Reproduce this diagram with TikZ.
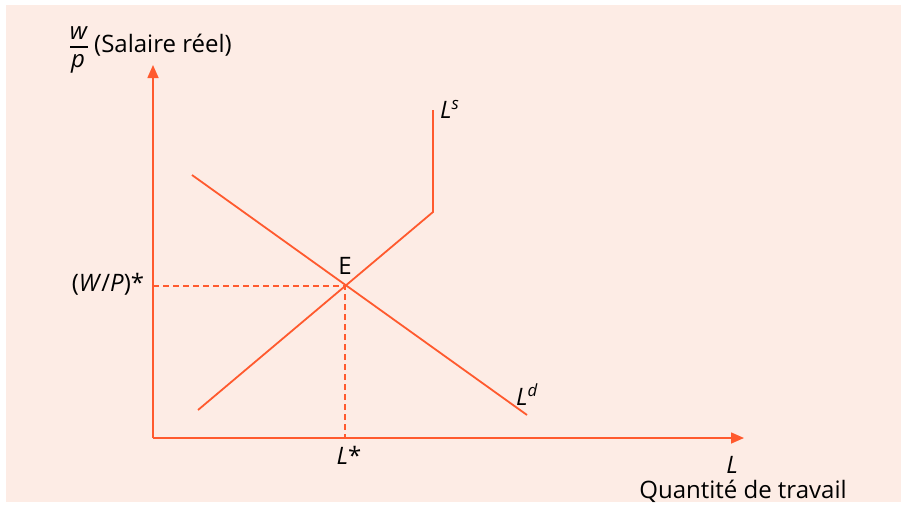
\documentclass[tikz,border=0pt]{standalone}
\usepackage{fontspec}
\setmainfont{Open Sans}
\usetikzlibrary{arrows.meta}
\definecolor{bgpink}{HTML}{FDECE5}
\definecolor{curve}{HTML}{FF5A2E}
\tikzset{
  axis/.style={draw=curve, line width=1.6pt, -{Triangle[length=13pt,width=11pt]}},
  curveline/.style={draw=curve, line width=1.8pt},
  guide/.style={draw=curve, line width=1.1pt, dash pattern=on 6pt off 4pt},
  lbl/.style={font=\fontsize{24}{28}\selectfont, inner sep=0pt, text=black},
}
\begin{document}
\begin{tikzpicture}[x=1pt,y=-1pt]
\useasboundingbox (0,0) rectangle (902,517);
\fill[bgpink] (6,5) rectangle (901,502);
% coordinates
\coordinate (O) at (153,438);
\coordinate (Ytop) at (153,65);
\coordinate (Xend) at (744,438);
\coordinate (Ld1) at (192,175);
\coordinate (Ld2) at (527,415);
\coordinate (Ls1) at (198,410);
\coordinate (Lsk) at (433,212);
\coordinate (Ls2) at (433,110);
\coordinate (E) at (345,286);
\coordinate (Ey) at (153,286);
\coordinate (Ex) at (345,438);
% guides
\draw[guide] (Ey) -- (E) -- (Ex);
% curves
\draw[curveline] (Ld1) -- (Ld2);
\draw[curveline] (Ls1) -- (Lsk) -- (Ls2);
% axes
\draw[axis] (O) -- (Ytop);
\draw[axis] (O) -- (Xend);
% labels
\node[lbl] (fw) at (79,33) {\textit{w}};
\node[lbl] (fp) at (78,64) {\textit{p}};
\draw[black, line width=1.3pt] (70,47) -- (88,47);
\node[lbl, anchor=west] (ytitle) at (94,45) {(Salaire réel)};
\node[lbl] (wp) at (108,284) {(\textit{W}/\textit{P})*};
\node[lbl] (Elbl) at (345,266) {E};
\node[lbl] (Lstar) at (349,455) {\textit{L}*};
\node[lbl, anchor=west] (Ls) at (440,109) {\textit{L}\textsuperscript{\textit{s}}};
\node[lbl, anchor=west] (Ld) at (516,395) {\textit{L}\textsuperscript{\textit{d}}};
\node[lbl] (Lx) at (732,465) {\textit{L}};
\node[lbl] (qt) at (743,491) {Quantité de travail};
\end{tikzpicture}
\end{document}
